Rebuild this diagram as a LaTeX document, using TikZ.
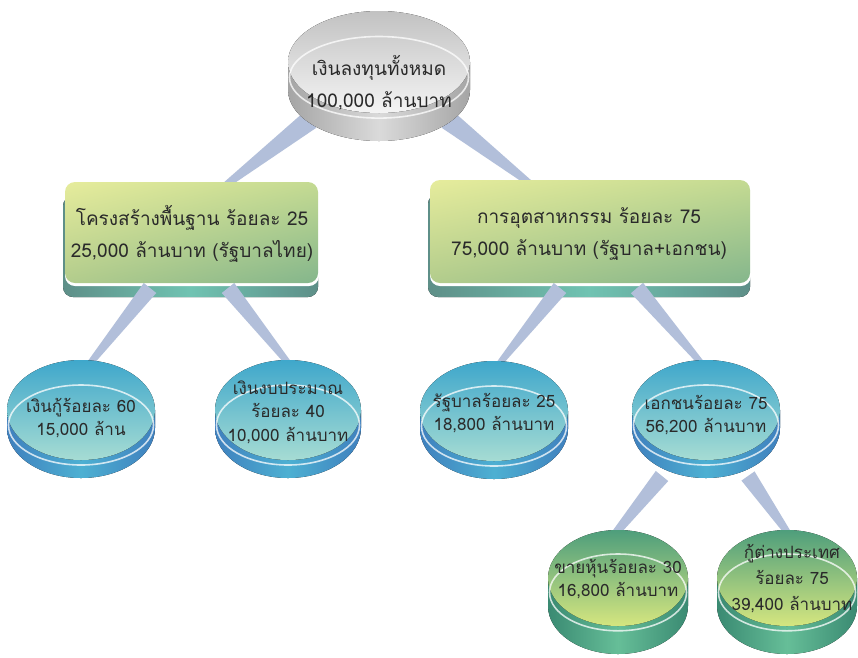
\documentclass[tikz,border=0pt]{standalone}
\usepackage{fontspec}
\newfontfamily\thai[Script=Thai]{Loma}
\usetikzlibrary{calc,shadings}
\definecolor{wedgec}{HTML}{B2BFDA}
\definecolor{bluetopA}{HTML}{3FA7CB}
\definecolor{bluetopB}{HTML}{A6DCD3}
\definecolor{bluesideA}{HTML}{3F80BE}
\definecolor{bluesideB}{HTML}{4DB0D2}
\definecolor{greentopA}{HTML}{4E9E7C}
\definecolor{greentopB}{HTML}{D5E67F}
\definecolor{greensideA}{HTML}{3A8A72}
\definecolor{greensideB}{HTML}{66BE98}
\definecolor{greytopA}{HTML}{C2C2C2}
\definecolor{greytopB}{HTML}{F4F4F4}
\definecolor{greysideA}{HTML}{A5A5A5}
\definecolor{greysideB}{HTML}{DADADA}
\definecolor{faceUL}{HTML}{E6EC9C}
\definecolor{faceUR}{HTML}{C4DA92}
\definecolor{faceLL}{HTML}{B2CC8C}
\definecolor{faceLR}{HTML}{84B68C}
\definecolor{baseA}{HTML}{5E8F88}
\definecolor{baseB}{HTML}{70C3B2}
\definecolor{txt}{HTML}{2A2A2A}
% #1 cx, #2 cy, #3 rx, #4 ry, #5 depth, #6 scheme
\newcommand\mydisc[6]{%
  \fill[left color=#6sideA, right color=#6sideA, middle color=#6sideB]
    ({#1-#3},{-#2}) -- ({#1-#3},{-#2-#5})
    arc[start angle=180,end angle=360,x radius=#3,y radius=#4]
    -- ({#1+#3},{-#2}) -- cycle;
  \fill[top color=#6topA, bottom color=#6topB] (#1,-#2) ellipse[x radius=#3,y radius=#4];
  \draw[white, line width=1.6pt, opacity=0.75] ({#1},{-#2-0.3*#4}) ellipse[x radius=#3-1.5, y radius=0.8*#4];
}
% #1 x1, #2 y1, #3 x2, #4 y2
\newcommand\myrectbase[4]{%
  \fill[rounded corners=10pt, left color=baseA, right color=baseA, middle color=baseB]
    ({#1-2},{-#2-14}) rectangle ({#3},{-#4-14});
  \fill[white, rounded corners=10pt] ({#1},{-#2-3}) rectangle ({#3+1},{-#4-3});
}
\newcommand\myrectface[4]{%
  \shade[rounded corners=10pt, upper left=faceUL, upper right=faceUR, lower left=faceLL, lower right=faceLR]
    ({#1},{-#2}) rectangle ({#3},{-#4});
}
\newcommand\mywedge[4]{%
  \fill[wedgec] ($(#1)!#3!90:(#2)$) -- ($(#1)!#3!-90:(#2)$) -- ($(#2)!#4!90:(#1)$) -- ($(#2)!#4!-90:(#1)$) -- cycle;
}
\tikzset{
  bigtxt/.style={align=center, text=txt, font=\thai\fontsize{19}{31.5}\selectfont, inner sep=0pt},
  smalltxt/.style={align=center, text=txt, font=\thai\fontsize{17}{23.5}\selectfont, inner sep=0pt}
}
\begin{document}
\begin{tikzpicture}[x=1pt,y=1pt]
\useasboundingbox (0,0) rectangle (858,-657);
\fill[white] (0,0) rectangle (858,-657);
% connector end points
\coordinate (t1) at (310,-120); \coordinate (r1t) at (222,-188);
\coordinate (t2) at (448,-120); \coordinate (r2t) at (532,-185);
\coordinate (r1a) at (150,-288); \coordinate (dAt) at (88,-366);
\coordinate (r1b) at (228,-288); \coordinate (dBt) at (289,-364);
\coordinate (r2c) at (560,-288); \coordinate (dCt) at (499,-364);
\coordinate (r2d) at (637,-288); \coordinate (dDt) at (702,-364);
\coordinate (dDe) at (662,-476); \coordinate (dEt) at (606,-545);
\coordinate (dDf) at (748,-476); \coordinate (dFt) at (790,-536);
% rectangle bases
\myrectbase{65}{182}{318}{283}
\myrectbase{430}{180}{750}{283}
% connectors
\mywedge{t1}{r1t}{10pt}{3pt}
\mywedge{t2}{r2t}{10pt}{3pt}
\mywedge{r1a}{dAt}{8pt}{3pt}
\mywedge{r1b}{dBt}{8pt}{3pt}
\mywedge{r2c}{dCt}{8pt}{3pt}
\mywedge{r2d}{dDt}{8pt}{3pt}
\mywedge{dDe}{dEt}{8pt}{3pt}
\mywedge{dDf}{dFt}{8pt}{3pt}
% rectangle faces
\myrectface{65}{182}{318}{283}
\myrectface{430}{180}{750}{283}
% discs
\mydisc{379}{62}{91}{51}{28}{grey}
\mydisc{81}{410}{74}{50}{18}{blue}
\mydisc{288}{410}{73}{50}{18}{blue}
\mydisc{494}{411}{74}{50}{18}{blue}
\mydisc{706}{410}{74}{50}{18}{blue}
\mydisc{618}{578}{70}{48}{28}{green}
\mydisc{787}{578}{70}{48}{28}{green}
% texts
\node[bigtxt] (top) at (379,-83) {เงินลงทุนทั้งหมด\\100,000 ล้านบาท};
\node[bigtxt] (r1) at (192,-234) {โครงสร้างพื้นฐาน ร้อยละ 25\\25,000 ล้านบาท (รัฐบาลไทย)};
\node[bigtxt] (r2) at (589,-234) {การอุตสาหกรรม ร้อยละ 75\\75,000 ล้านบาท (รัฐบาล+เอกชน)};
\node[smalltxt] (dA) at (81,-418) {เงินกู้ร้อยละ 60\\15,000 ล้าน};
\node[smalltxt] (dB) at (288,-412) {เงินงบประมาณ\\ร้อยละ 40\\10,000 ล้านบาท};
\node[smalltxt] (dC) at (494,-413) {รัฐบาลร้อยละ 25\\18,800 ล้านบาท};
\node[smalltxt] (dD) at (706,-415) {เอกชนร้อยละ 75\\56,200 ล้านบาท};
\node[smalltxt] (dE) at (618,-579) {ขายหุ้นร้อยละ 30\\16,800 ล้านบาท};
\node[smalltxt, font=\thai\fontsize{17}{26}\selectfont] (dF) at (792,-579) {กู้ต่างประเทศ\\ร้อยละ 75\\39,400 ล้านบาท};
\end{tikzpicture}
\end{document}
